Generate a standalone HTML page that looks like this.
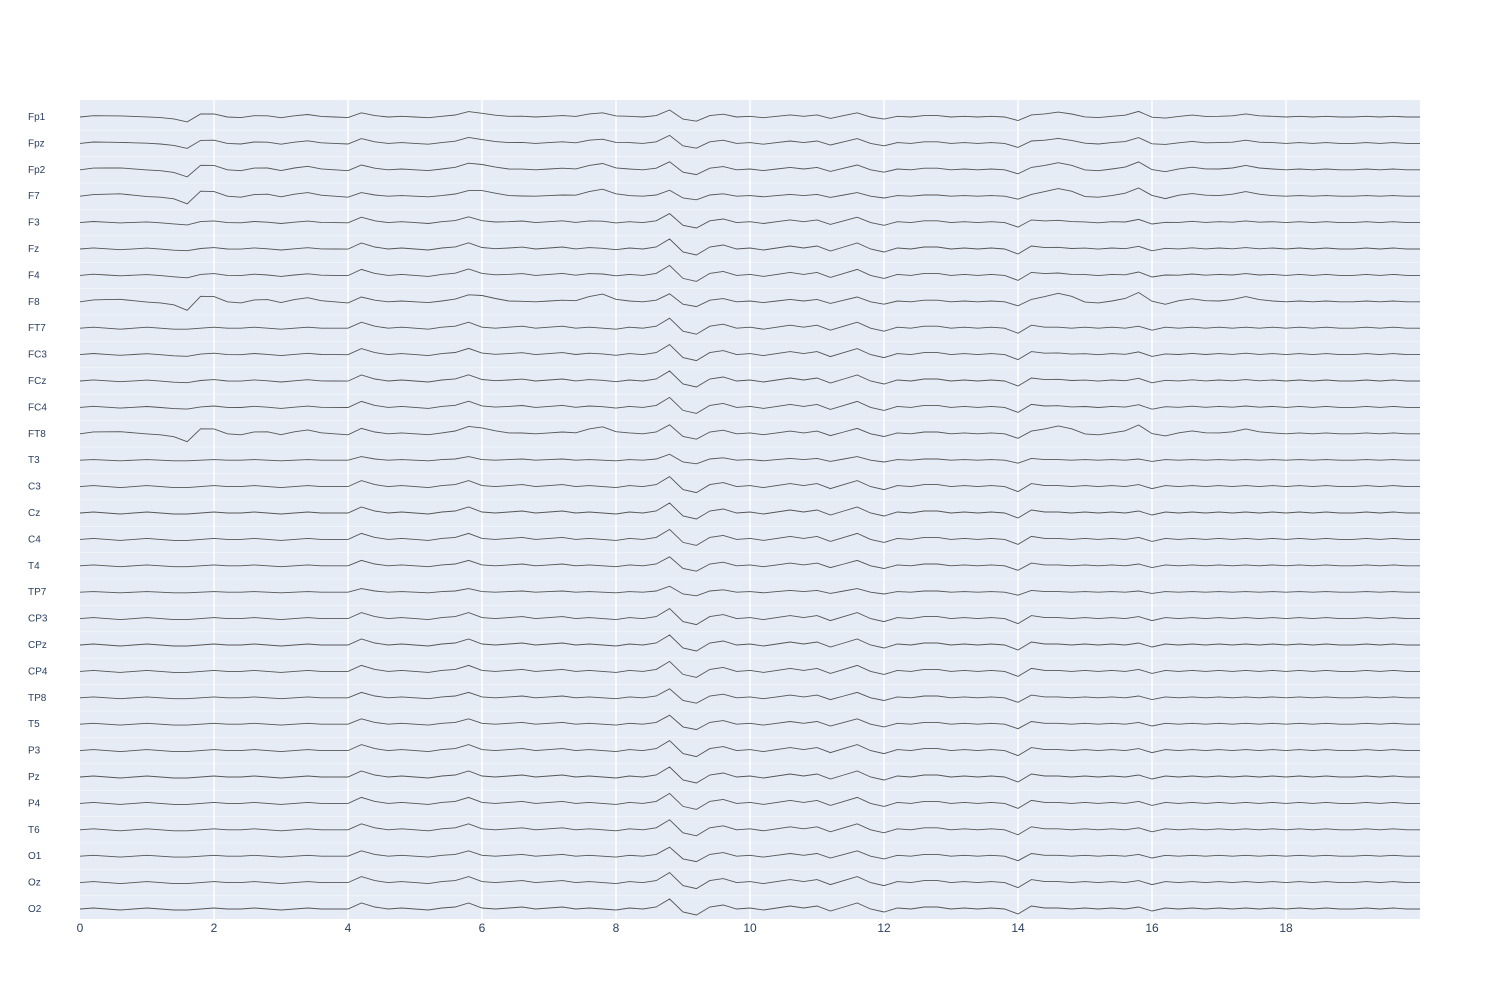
<!DOCTYPE html>
<html><head><meta charset="utf-8"><style>
html,body{margin:0;padding:0;background:#fff;}
svg{display:block;font-family:"Liberation Sans",Arial,sans-serif;}
</style></head><body>
<svg id="chart" width="1500" height="1000" viewBox="0 0 1500 1000" xmlns="http://www.w3.org/2000/svg">
<rect x="80" y="100" width="1340" height="819" fill="#e5ecf6"/>
<g id="grid"></g>
<g id="traces"></g>
<g id="ylabels"></g>
<g id="xticks"></g>
</svg>
<script>
const channels = ["Fp1","Fpz","Fp2","F7","F3","Fz","F4","F8","FT7","FC3","FCz","FC4","FT8","T3","C3","Cz","C4","T4","TP7","CP3","CPz","CP4","TP8","T5","P3","Pz","P4","T6","O1","Oz","O2"];
const commonWeights = [0.7,0.8,0.8,0.6,0.9,1,1,0.8,1,1,1,1,0.9,0.6,1,1,1,0.9,0.6,1,1,1,0.9,0.9,1,1,1,1,0.9,1,1];
const eyeWeights = [0.6,0.6,0.9,1.0,0.2,0.1,0.2,1.1,0,0.1,0.1,0.1,1.0,0,0,0,0,0,0,0,0,0,0,0,0,0,0,0,0,0,0];
const sampleStep = 0.2;
const commonWave = [0,1,0,-1,0,1,0,-1,-1,0, 1,0,0,1,0,-1,0,1,0,0,
 0,6,2,0,1,0,-1,1,2,6, 1,0,1,2,0,1,2,0,1,0,
 -1,1,0,2,10,-3,-6,2,4,0, 1,-1,1,3,1,3,-2,2,6,0,
 -3,1,0,2,2,0,1,0,1,0, -5,3,1,1,0,1,0,1,0,2,
 -2,1,0,1,0,1,0,1,0,1, 0,1,0,1,0,0,1,0,1,0,0];
const eyeWave = [0,1,2,3,1,-1,-1,-2,-7,5, 4,0,-1,1,2,0,2,3,1,0,
 -1,0,0,0,0,0,0,0,1,2, 5,3,0,-1,0,0,0,1,4,7,
 3,0,0,0,0,0,0,0,0,0, 0,0,0,0,0,0,0,0,0,0,
 0,0,0,0,0,0,0,0,0,0, 0,0,4,7,5,-1,-1,0,3,7,
 2,-3,1,2,1,0,2,4,2,0, 0,0,0,0,0,0,0,0,0,0,0];
const xTicks = [0,2,4,6,8,10,12,14,16,18];

const NS="http://www.w3.org/2000/svg";
const x0=80,x1=1420,tMax=20,yFirst=117,yStep=26.4;
const xs=t=>x0+(t/tMax)*(x1-x0);
const ys=i=>yFirst+i*yStep;
const grid=document.getElementById('grid');
for(const t of xTicks){
  const l=document.createElementNS(NS,'line');
  
  
  l.setAttribute('x1',xs(t));l.setAttribute('x2',xs(t));l.setAttribute('y1',100);l.setAttribute('y2',919);
  l.setAttribute('stroke','#fff');l.setAttribute('stroke-width',t===0?0:1.5);
  grid.appendChild(l);
}
for(let i=0;i<channels.length-1;i++){
  const y=(ys(i)+ys(i+1))/2;
  const l=document.createElementNS(NS,'line');
  
  
  l.setAttribute('x1',80);l.setAttribute('x2',1420);l.setAttribute('y1',y);l.setAttribute('y2',y);
  l.setAttribute('stroke','#fff');l.setAttribute('stroke-width',0.6);l.setAttribute('opacity','0.7');
  grid.appendChild(l);
}
const traces=document.getElementById('traces');
const labels=document.getElementById('ylabels');
channels.forEach((ch,i)=>{
  const pts=[];
  for(let k=0;k<commonWave.length;k++){
    const v=commonWeights[i]*commonWave[k]+eyeWeights[i]*eyeWave[k];
    pts.push(xs(k*sampleStep).toFixed(1)+','+(ys(i)-v).toFixed(1));
  }
  const p=document.createElementNS(NS,'polyline');
  
  
  p.setAttribute('points',pts.join(' '));
  p.setAttribute('fill','none');p.setAttribute('stroke','#555');p.setAttribute('stroke-width','0.9');
  traces.appendChild(p);
  const tx=document.createElementNS(NS,'text');
  
  
  tx.setAttribute('x',28);tx.setAttribute('y',ys(i)+3);
  tx.setAttribute('font-size','10');tx.setAttribute('fill','#2a3f5f');
  tx.textContent=ch;
  labels.appendChild(tx);
});
const xt=document.getElementById('xticks');
for(const t of xTicks){
  const tx=document.createElementNS(NS,'text');
  
  
  tx.setAttribute('x',xs(t));tx.setAttribute('y',932);
  tx.setAttribute('text-anchor','middle');tx.setAttribute('font-size','12');tx.setAttribute('fill','#2a3f5f');
  tx.textContent=t;
  xt.appendChild(tx);
}
</script>
</body></html>
